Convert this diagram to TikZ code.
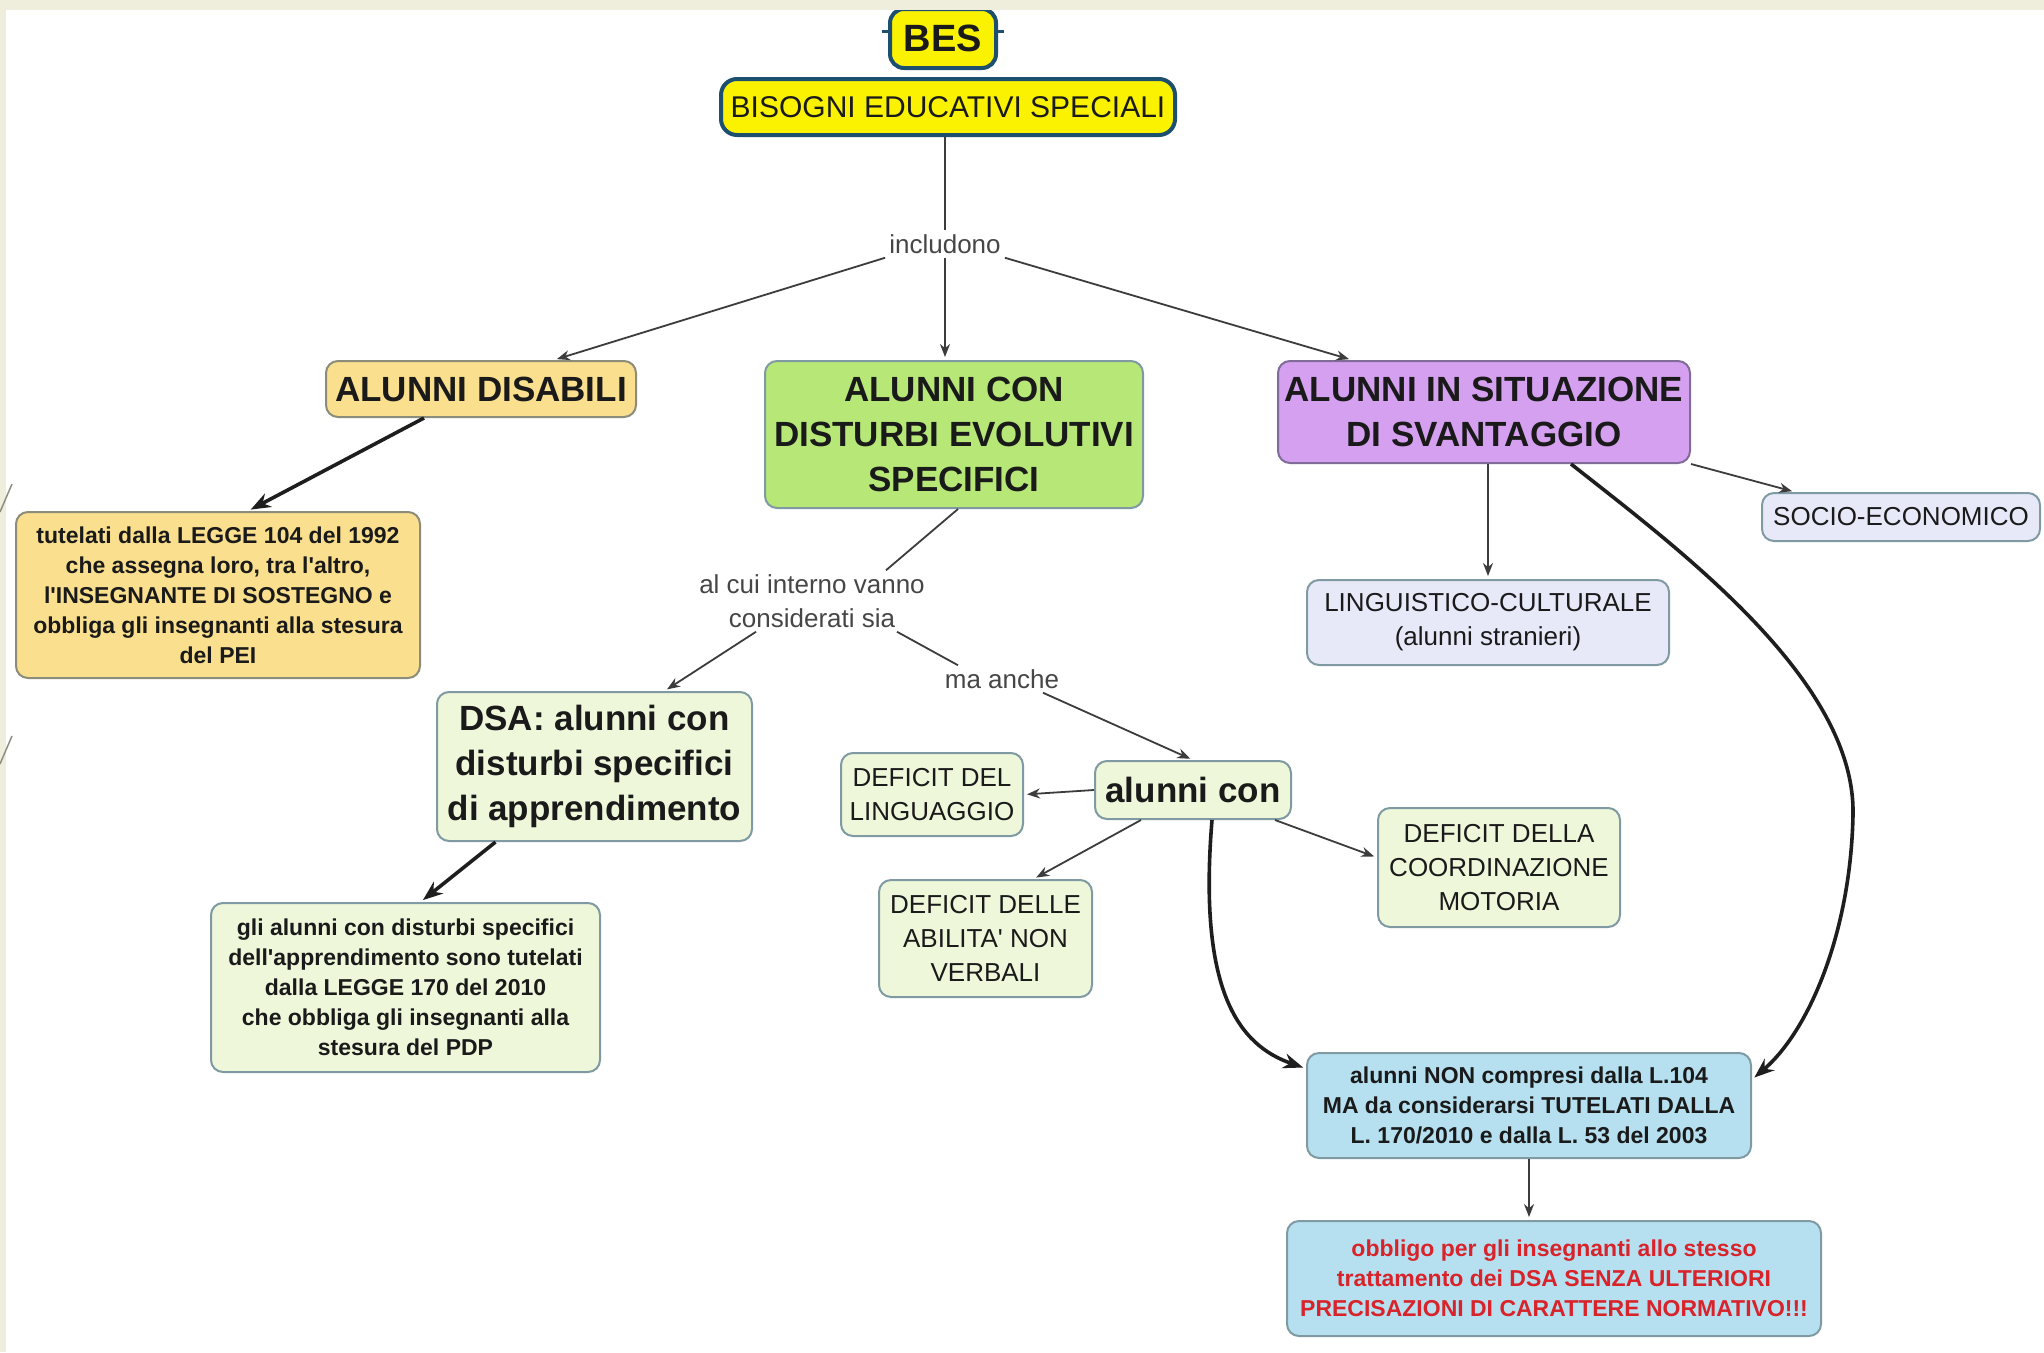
\documentclass[tikz,border=0pt]{standalone}
\usepackage{fontspec}
\setmainfont{Liberation Sans}[Ligatures=TeXOff]
\usetikzlibrary{arrows.meta}

\definecolor{beige}{HTML}{EFEDDB}
\definecolor{yellowfill}{HTML}{FAF200}
\definecolor{navyedge}{HTML}{1D4F6E}
\definecolor{disfill}{HTML}{FAE08E}
\definecolor{devfill}{HTML}{B7E877}
\definecolor{sitfill}{HTML}{D6A0F0}
\definecolor{lavfill}{HTML}{E7E9F8}
\definecolor{palegreen}{HTML}{EEF7DA}
\definecolor{bluefill}{HTML}{B6E0F0}
\definecolor{boxedge}{HTML}{7F9AA2}
\definecolor{oliveedge}{HTML}{8C8C7A}
\definecolor{ink}{HTML}{1A1A1A}
\definecolor{labelgrey}{HTML}{464646}
\definecolor{linegrey}{HTML}{3C3C3C}
\definecolor{heavyink}{HTML}{1E1E1E}
\definecolor{redtext}{HTML}{D8232A}
\definecolor{edgemark}{HTML}{8E8E80}

\begin{document}
\begin{tikzpicture}[x=1pt,y=-1pt,
  box/.style={draw=boxedge, line width=2pt, rounded corners=12pt, inner sep=0pt,
              align=center, text=ink},
  bigbold/.style={font=\fontsize{35}{45}\selectfont\bfseries},
  smallbold/.style={font=\fontsize{23}{30}\selectfont\bfseries},
  regtext/.style={font=\fontsize{26}{34}\selectfont},
  lbl/.style={font=\fontsize{26}{34}\selectfont, text=labelgrey, align=center, inner sep=4pt},
  conn/.style={draw=linegrey, line width=1.8pt},
  arr/.style={conn, -{Stealth[length=13pt,width=10pt]}, shorten >=3pt},
  heavy/.style={draw=heavyink, line width=3.6pt, -{Stealth[length=20pt,width=15pt]}, shorten >=3pt},
  size/.style 2 args={minimum width=#1pt, minimum height=#2pt},
]
\useasboundingbox (0,0) rectangle (2044,1352);
\fill[white] (0,0) rectangle (2044,1352);

% top of the map
\node[box, fill=yellowfill, draw=navyedge, line width=4pt, rounded corners=14pt,
      font=\fontsize{38}{44}\selectfont\bfseries, size={106}{59}] (bes) at (943,38.5) {BES};
\node[box, fill=yellowfill, draw=navyedge, line width=4pt, rounded corners=16pt,
      font=\fontsize{30}{36}\selectfont, size={454}{56}] (bisogni) at (948,107) {BISOGNI EDUCATIVI SPECIALI};
\draw[navyedge, line width=2.5pt] ([yshift=7pt]bes.west) -- ++(-6,0);
\draw[navyedge, line width=2.5pt] ([yshift=7pt]bes.east) -- ++(6,0);

% first level
\node[box, fill=disfill, draw=oliveedge, bigbold, size={310}{56}] (disabili) at (481,389) {ALUNNI DISABILI};
\node[box, fill=devfill, bigbold, size={378}{147}] (dev) at (954,434.5) {ALUNNI CON\\DISTURBI EVOLUTIVI\\SPECIFICI};
\node[box, fill=sitfill, draw=boxedge!70!violet, bigbold, size={412}{102}] (sit) at (1484,412) {ALUNNI IN SITUAZIONE\\DI SVANTAGGIO};

% disadvantage branch
\node[box, fill=lavfill, regtext, size={278}{48}] (socio) at (1901,517) {SOCIO-ECONOMICO};
\node[box, fill=lavfill, regtext, size={362}{85}] (ling) at (1488,622.5) {LINGUISTICO-CULTURALE\\(alunni stranieri)};

% disability branch
\node[box, fill=disfill, draw=oliveedge, smallbold, size={404}{166}] (tutelati) at (218,595)
  {tutelati dalla LEGGE 104 del 1992\\che assegna loro, tra l'altro,\\l'INSEGNANTE DI SOSTEGNO e\\obbliga gli insegnanti alla stesura\\del PEI};

% linking phrases
\node[lbl] (includono) at (945,244) {includono};
\node[lbl] (alcui) at (812,601) {al cui interno vanno\\considerati sia};
\node[lbl] (maanche) at (1002,679) {ma anche};

% developmental disorders branch
\node[box, fill=palegreen, bigbold, size={315}{149}] (dsa) at (594.5,766.5) {DSA: alunni con\\disturbi specifici\\di apprendimento};
\node[box, fill=palegreen, smallbold, size={389}{169}] (glialunni) at (405.5,987.5)
  {gli alunni con disturbi specifici\\dell'apprendimento sono tutelati\\dalla LEGGE 170 del 2010\\che obbliga gli insegnanti alla\\stesura del PDP};
\node[box, fill=palegreen, bigbold, size={196}{58}] (alcon) at (1193,790) {alunni con};
\node[box, fill=palegreen, regtext, size={182}{83}] (deflin) at (932,794.5) {DEFICIT DEL\\LINGUAGGIO};
\node[box, fill=palegreen, regtext, size={213}{117}] (defabil) at (985.5,938.5) {DEFICIT DELLE\\ABILITA' NON\\VERBALI};
\node[box, fill=palegreen, regtext, size={242}{119}] (defcoord) at (1499,867.5) {DEFICIT DELLA\\COORDINAZIONE\\MOTORIA};

% legal consequences
\node[box, fill=bluefill, smallbold, size={444}{105}] (noncomp) at (1529,1105.5)
  {alunni NON compresi dalla L.104\\MA da considerarsi TUTELATI DALLA\\L. 170/2010 e dalla L. 53 del 2003};
\node[box, fill=bluefill, smallbold, text=redtext, size={534}{115}] (obbligo) at (1554,1278.5)
  {obbligo per gli insegnanti allo stesso\\trattamento dei DSA SENZA ULTERIORI\\PRECISAZIONI DI CARATTERE NORMATIVO!!!};

% connectors
\draw[conn] (includono.north |- bisogni.south) -- (includono.north);
\draw[arr] (includono.south west) -- ([xshift=73pt]disabili.north);
\draw[arr] (includono.south) -- (includono.south |- dev.north);
\draw[arr] (includono.south east) -- ([xshift=-132pt]sit.north);
\draw[heavy] ([xshift=-57pt]disabili.south) -- ([xshift=30pt]tutelati.north);
\draw[conn] ([xshift=4pt]dev.south) -- ([xshift=74pt]alcui.north);
\draw[arr] ([xshift=-56pt]alcui.south) -- ([xshift=70pt]dsa.north);
\draw[conn] ([xshift=85pt]alcui.south) -- ([xshift=-44pt]maanche.north);
\draw[arr] ([xshift=41pt]maanche.south) -- (alcon.north);
\draw[heavy] ([xshift=-99pt]dsa.south) -- ([xshift=15pt]glialunni.north);
\draw[arr] (alcon.west) -- (deflin.east);
\draw[arr] ([xshift=-52pt]alcon.south) -- ([xshift=48pt]defabil.north);
\draw[arr] ([xshift=82pt]alcon.south) -- ([yshift=10pt]defcoord.west);
\draw[heavy] ([xshift=19pt]alcon.south) .. controls (1198,990) and (1238,1045) .. ([yshift=37pt]noncomp.west);
\draw[arr] (ling.north |- sit.south) -- (ling.north);
\draw[arr] (sit.south east) -- ([xshift=34pt]socio.north west);
\draw[heavy] ([xshift=87pt]sit.south) .. controls (1680,550) and (1855,680) .. (1853,814)
  .. controls (1851,930) and (1810,1030) .. ([yshift=26pt]noncomp.east);
\draw[arr] (noncomp.south) -- (noncomp.south |- obbligo.north);

% slide frame
\fill[beige] (0,0) rectangle (2044,10);
\fill[beige] (0,0) rectangle (6,1352);
\draw[edgemark, line width=1.5pt] (0,512) -- (12,484);
\draw[edgemark, line width=1.5pt] (0,764) -- (12,736);
\end{tikzpicture}
\end{document}
